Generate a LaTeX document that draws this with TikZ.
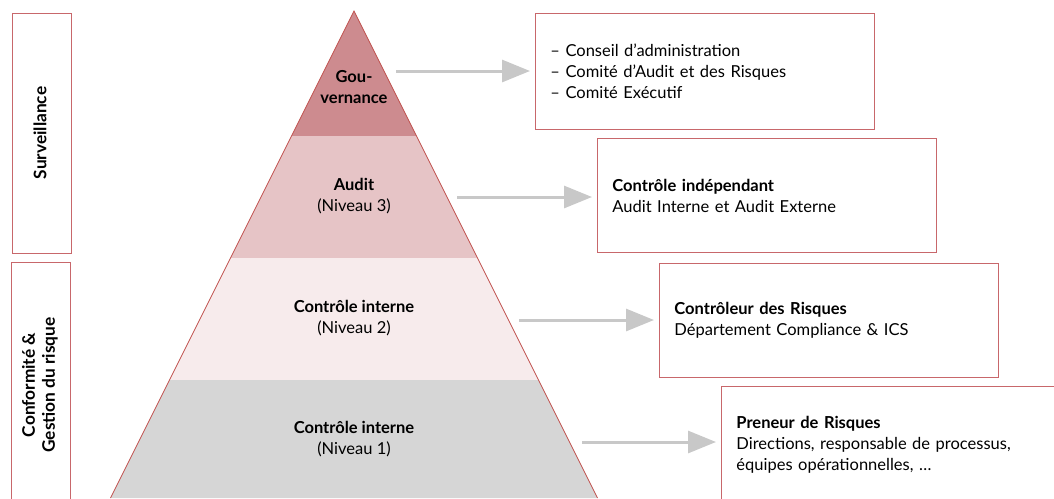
\documentclass[tikz,border=0pt]{standalone}
\usepackage{fontspec}
\setmainfont{Lato}
\usetikzlibrary{arrows.meta}
\definecolor{govc}{HTML}{CD8B8F}
\definecolor{audc}{HTML}{E6C4C6}
\definecolor{nivb}{HTML}{F7EBEC}
\definecolor{niva}{HTML}{D6D6D6}
\definecolor{redline}{HTML}{C0504D}
\definecolor{boxline}{HTML}{C8676B}
\definecolor{arrc}{HTML}{C8C8C8}
\begin{document}
\begin{tikzpicture}[x=1pt,y=-1pt,
  txt/.style={font=\fontsize{16.5}{21.5}\selectfont, align=center, inner sep=0pt},
  rbox/.style={draw=boxline, line width=0.9pt, fill=white, anchor=north west,
    text width=309pt, inner xsep=15pt, inner ysep=0pt, minimum height=116pt,
    align=left, font=\fontsize{16.5}{21}\selectfont},
  lbox/.style={draw=boxline, line width=0.9pt, anchor=north west, minimum width=59pt, inner sep=0pt},
  vlab/.style={txt, rotate=90, font=\fontsize{17.3}{20}\selectfont\bfseries},
  arr/.style={draw=arrc, line width=3pt, -{Triangle[length=28pt,width=22pt]}, shorten >=5pt}
]
\useasboundingbox (0,0) rectangle (1054,498);
% pyramid bands
\fill[govc] (354,11) -- (416.5,136) -- (291.5,136) -- cycle;
\fill[audc] (291.5,136) -- (416.5,136) -- (477.5,258) -- (230.5,258) -- cycle;
\fill[nivb] (230.5,258) -- (477.5,258) -- (538.5,380) -- (169.5,380) -- cycle;
\fill[niva] (169.5,380) -- (538.5,380) -- (597.5,498) -- (110.5,498) -- cycle;
\draw[redline, line width=0.8pt] (110.5,498) -- (354,11) -- (597.5,498);
% pyramid labels
\node[txt] (gov) at (354,87) {\textbf{Gou-}\\\textbf{vernance}};
\node[txt] (aud) at (354,196) {\textbf{Audit}\\(Niveau 3)};
\node[txt] (ci2) at (354,318) {\textbf{Contrôle interne}\\(Niveau 2)};
\node[txt] (ci1) at (354,439) {\textbf{Contrôle interne}\\(Niveau 1)};
% left boxes
\node[lbox, minimum height=240pt] (surv) at (12,13) {};
\node[vlab] (survt) at (40,133) {Surveillance};
\node[lbox, minimum height=250pt] (conf) at (11,262) {};
\node[vlab] (conft) at (40,385) {Conformité \&\\Gestion du risque};
% right boxes
\node[rbox] (b1) at (535,13) {– Conseil d’administration\\– Comité d’Audit et des Risques\\– Comité Exécutif};
\node[rbox, minimum height=114pt] (b2) at (597,138) {\textbf{Contrôle indépendant}\\Audit Interne et Audit Externe};
\node[rbox, minimum height=114pt] (b3) at (659,263) {\textbf{Contrôleur des Risques}\\Département Compliance \& ICS};
\node[rbox, minimum height=116pt] (b4) at (721,386) {\textbf{Preneur de Risques}\\Directions, responsable de processus,\\équipes opérationnelles, …};
% arrows
\coordinate (s1) at (396,71);
\coordinate (s2) at (457,197);
\coordinate (s3) at (519,320);
\coordinate (s4) at (582,442);
\draw[arr] (s1) -- (s1 -| b1.west);
\draw[arr] (s2) -- (s2 -| b2.west);
\draw[arr] (s3) -- (s3 -| b3.west);
\draw[arr] (s4) -- (s4 -| b4.west);
\end{tikzpicture}
\end{document}
